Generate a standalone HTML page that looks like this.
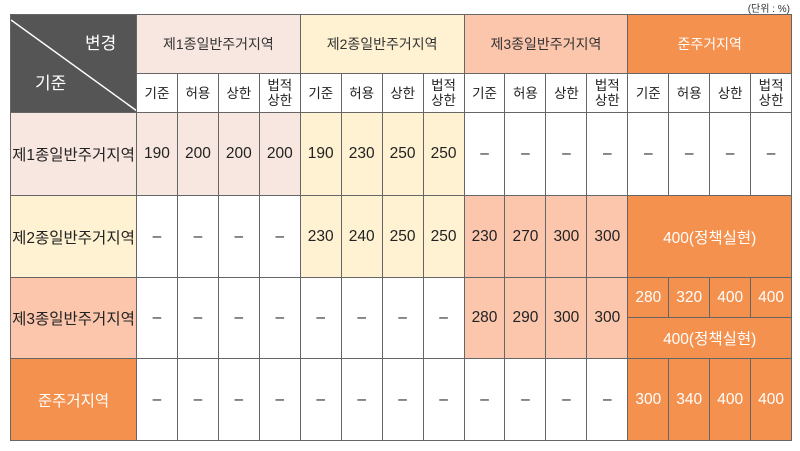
<!DOCTYPE html>
<html><head><meta charset="utf-8"><style>
body{margin:0;width:800px;height:451px;background:#fff;font-family:"Liberation Sans","Noto Sans CJK KR",sans-serif;position:relative;overflow:hidden}
.unit{position:absolute;right:10px;top:0;font-size:10px;color:#333}
table{position:absolute;left:10px;top:14px;border-collapse:collapse;table-layout:fixed;width:781px}
td{border:1px solid #666;text-align:center;vertical-align:middle;padding:0;font-size:15.5px;color:#222;overflow:hidden}
.h td{font-size:14px;color:#333}
.s td{font-size:13.5px;line-height:15px;background:#fff}
.g1{background:#f8e7e0}.g2{background:#fff2d2}.g3{background:#fcc6ad}td.g4{background:#f4914e;color:#fff}
.h td.dark{background:#555;position:relative;color:#fff;font-size:17px}
</style></head><body>
<div class="unit">(단위 : %)</div>
<table>
<colgroup><col style="width:126px"><col span="16" style="width:40.94px"></colgroup>
<tr class="h" style="height:59px">
<td rowspan="2" class="dark"><svg width="126" height="98" style="position:absolute;left:0;top:0"><line x1="0" y1="5" x2="126" y2="96" stroke="#fff" stroke-width="1.5"/></svg><span style="position:absolute;left:74px;top:14px">변경</span><span style="position:absolute;left:24px;top:54px">기준</span></td>
<td colspan="4" class="g1">제1종일반주거지역</td><td colspan="4" class="g2">제2종일반주거지역</td><td colspan="4" class="g3">제3종일반주거지역</td><td colspan="4" class="g4">준주거지역</td></tr>
<tr class="s" style="height:39px"><td>기준</td><td>허용</td><td>상한</td><td>법적<br>상한</td><td>기준</td><td>허용</td><td>상한</td><td>법적<br>상한</td><td>기준</td><td>허용</td><td>상한</td><td>법적<br>상한</td><td>기준</td><td>허용</td><td>상한</td><td>법적<br>상한</td></tr>
<tr style="height:83px"><td class="g1">제1종일반주거지역</td><td class="g1">190</td><td class="g1">200</td><td class="g1">200</td><td class="g1">200</td><td class="g2">190</td><td class="g2">230</td><td class="g2">250</td><td class="g2">250</td><td>–</td><td>–</td><td>–</td><td>–</td><td>–</td><td>–</td><td>–</td><td>–</td></tr>
<tr style="height:82px"><td class="g2">제2종일반주거지역</td><td>–</td><td>–</td><td>–</td><td>–</td><td class="g2">230</td><td class="g2">240</td><td class="g2">250</td><td class="g2">250</td><td class="g3">230</td><td class="g3">270</td><td class="g3">300</td><td class="g3">300</td><td colspan="4" class="g4">400(정책실현)</td></tr>
<tr style="height:40px"><td rowspan="2" class="g3">제3종일반주거지역</td><td rowspan="2">–</td><td rowspan="2">–</td><td rowspan="2">–</td><td rowspan="2">–</td><td rowspan="2">–</td><td rowspan="2">–</td><td rowspan="2">–</td><td rowspan="2">–</td><td rowspan="2" class="g3">280</td><td rowspan="2" class="g3">290</td><td rowspan="2" class="g3">300</td><td rowspan="2" class="g3">300</td><td class="g4">280</td><td class="g4">320</td><td class="g4">400</td><td class="g4">400</td></tr>
<tr style="height:41px"><td colspan="4" class="g4">400(정책실현)</td></tr>
<tr style="height:82px"><td class="g4">준주거지역</td><td>–</td><td>–</td><td>–</td><td>–</td><td>–</td><td>–</td><td>–</td><td>–</td><td>–</td><td>–</td><td>–</td><td>–</td><td class="g4">300</td><td class="g4">340</td><td class="g4">400</td><td class="g4">400</td></tr>
</table>
</body></html>
